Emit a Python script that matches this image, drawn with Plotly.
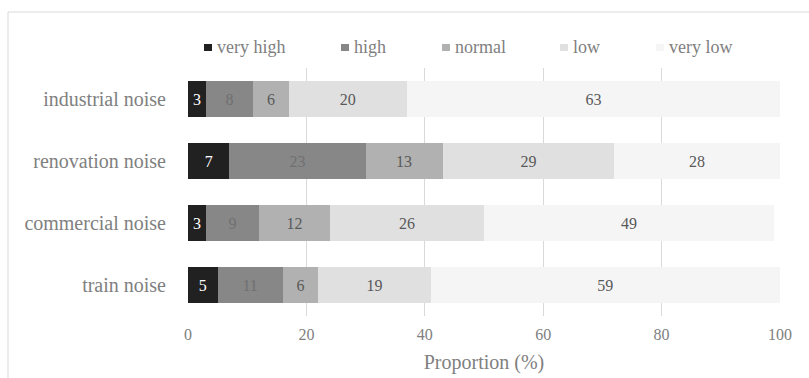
import plotly.graph_objects as go

# Survey categories (top to bottom) and response levels
categories = ["industrial noise", "renovation noise", "commercial noise", "train noise"]
levels = ["very high", "high", "normal", "low", "very low"]

# Proportion (%) of respondents per annoyance level
very_high = [3, 7, 3, 5]
high = [8, 23, 9, 11]
normal = [6, 13, 12, 6]
low = [20, 29, 26, 19]
very_low = [63, 28, 49, 59]
series = [very_high, high, normal, low, very_low]

x_ticks = [0, 20, 40, 60, 80, 100]

# Styling
fill_colors = ["#212121", "#878787", "#b1b1b1", "#e0e0e0", "#f5f5f5"]
text_colors = ["#ffffff", "#707070", "#595959", "#595959", "#595959"]
FONT = "Liberation Serif, Times New Roman, serif"
GREY = "#808080"

W, H = 809, 378
M_L, M_R, M_T, M_B = 188, 29, 68, 62
PW, PH = W - M_L - M_R, H - M_T - M_B


def px_x(px):
    return (px - M_L) / PW


def px_y(py):
    return (H - M_B - py) / PH


fig = go.Figure()
for name, vals, fc, tc in zip(levels, series, fill_colors, text_colors):
    fig.add_trace(go.Bar(
        y=categories, x=vals, name=name, orientation="h",
        marker=dict(color=fc, line=dict(width=0)),
        text=[str(v) for v in vals], textposition="inside",
        insidetextanchor="middle", textangle=0,
        textfont=dict(family=FONT, size=16, color=tc),
        constraintext="none", showlegend=False,
    ))

# Legend drawn as swatches with labels along the top
legend_px = [204, 341, 442, 560, 656]
shapes = []
annotations = []
for name, fc, lx in zip(levels, fill_colors, legend_px):
    shapes.append(dict(type="rect", xref="paper", yref="paper",
                       x0=px_x(lx), x1=px_x(lx + 8), y0=px_y(51), y1=px_y(44),
                       fillcolor=fc, line=dict(width=0)))
    annotations.append(dict(xref="paper", yref="paper", x=px_x(lx + 11), y=px_y(47),
                            xanchor="left", yanchor="middle", showarrow=False,
                            text=name, font=dict(family=FONT, size=18, color=GREY)))

# Outer frame
shapes.append(dict(type="rect", xref="paper", yref="paper",
                   x0=px_x(8), x1=px_x(W + 10), y0=px_y(H + 10), y1=px_y(12),
                   line=dict(color="#d9d9d9", width=1), fillcolor="rgba(0,0,0,0)",
                   layer="below"))

fig.update_layout(
    width=W, height=H, barmode="stack", bargap=0.413,
    margin=dict(l=M_L, r=M_R, t=M_T, b=M_B, autoexpand=False),
    paper_bgcolor="white", plot_bgcolor="white",
    font=dict(family=FONT, color=GREY),
    shapes=shapes, annotations=annotations,
    uniformtext=dict(mode=False),
    xaxis=dict(range=[0, 100], tickvals=x_ticks, ticktext=[str(t) for t in x_ticks],
               automargin=False,
               showgrid=True, gridcolor="#d9d9d9", gridwidth=1, zeroline=False,
               showline=False, ticks="outside", ticklen=4, tickcolor="rgba(0,0,0,0)",
               tickfont=dict(family=FONT, size=16, color=GREY),
               title=dict(text="Proportion (%)", standoff=12,
                          font=dict(family=FONT, size=20, color=GREY))),
    yaxis=dict(categoryorder="array", categoryarray=categories, autorange="reversed",
               automargin=False,
               showgrid=False, zeroline=False, showline=False,
               ticks="outside", ticklen=17, tickcolor="rgba(0,0,0,0)",
               tickfont=dict(family=FONT, size=20, color=GREY)),
)

fig.write_html("out.html")
